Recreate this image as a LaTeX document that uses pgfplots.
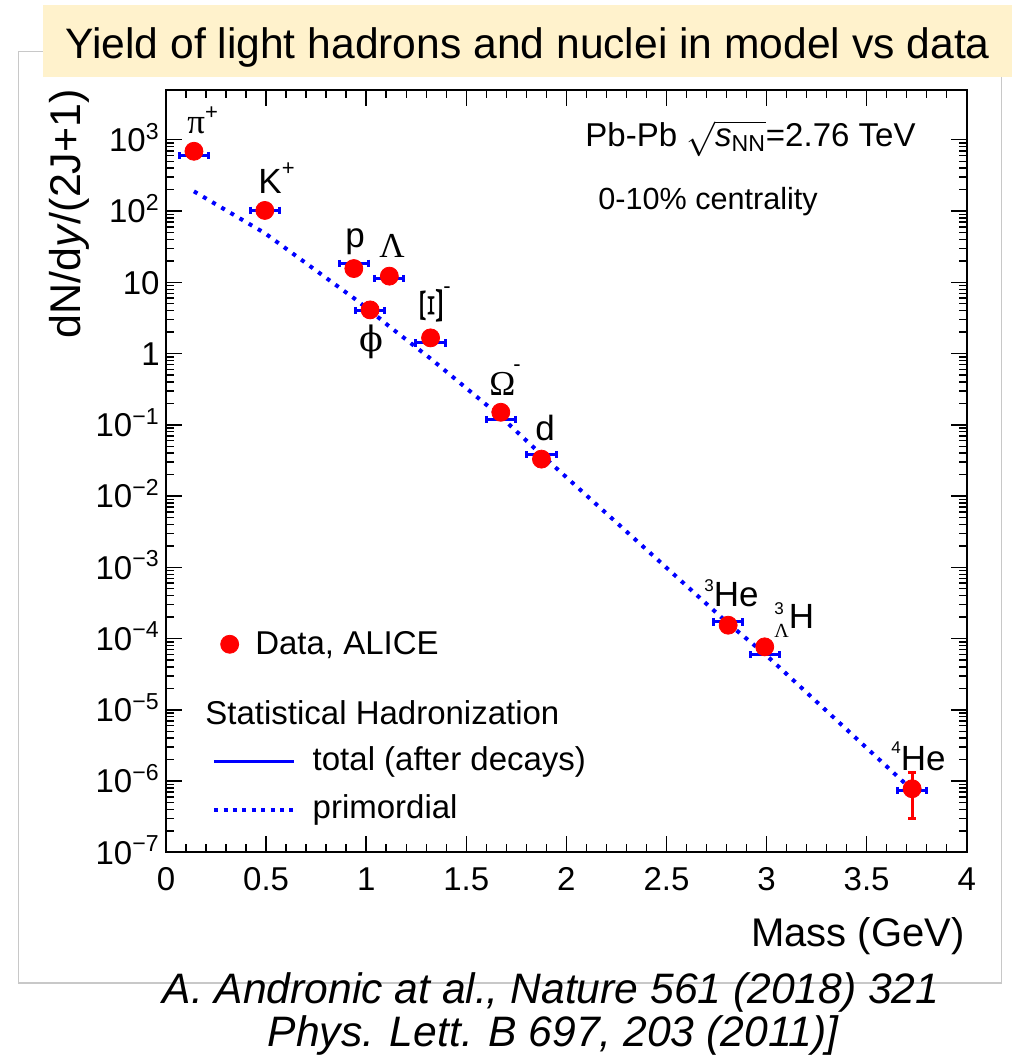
\documentclass[border=0pt]{standalone}
\usepackage{pgfplots}
\pgfplotsset{compat=1.18}
\usepackage{fontspec}
\setmainfont{Liberation Sans}
\newfontfamily\greek{Liberation Serif}
\newfontfamily\phifont{DejaVu Serif}
\definecolor{rootblue}{rgb}{0,0,1}
\definecolor{rootred}{rgb}{1,0,0}
\definecolor{titlebg}{RGB}{255,242,204}
\definecolor{framegray}{RGB}{200,200,200}
% small raised index for particle names
\newcommand\up[3]{\raisebox{#1}{\fontsize{#2}{#2}\selectfont #3}}

\begin{document}
\begin{tikzpicture}
% page layout in pixel-like units (origin top left)
\begin{scope}[x=0.5pt,y=-0.5pt]
  \path[use as bounding box] (0,0) rectangle (1017,1063);
  \draw[framegray, line width=0.6pt] (18.3,51.7) rectangle (1001.7,983);
  \fill[titlebg] (43.3,5) rectangle (1012,76.7);
  \node[anchor=base west, inner sep=0pt, font=\fontsize{21.3}{24}\selectfont] at (65,58.3)
    {Yield of light hadrons and nuclei in model vs data};
  \node[anchor=base, inner sep=0pt, font=\fontsize{21.3}{24}\selectfont\itshape] at (551,1003.3)
    {A. Andronic at al., Nature 561 (2018) 321};
  \node[anchor=base, inner sep=0pt, font=\fontsize{21.3}{24}\selectfont\itshape] at (553,1046.7)
    {Phys. Lett. B 697, 203 (2011)]};
  \node[anchor=base east, inner sep=0pt, font=\fontsize{20}{22}\selectfont] at (965,946)
    {Mass (GeV)};
  \node[anchor=base, rotate=90, inner sep=0pt, font=\fontsize{21.5}{22}\selectfont] at (80,214)
    {dN/d\textit{y}/(2J+1)};
\end{scope}

\begin{axis}[
  at={(83pt,-426.15pt)}, anchor=south west,
  scale only axis, width=400.35pt, height=381.15pt,
  xmin=0, xmax=4, ymode=log, ymin=1e-7, ymax=5000,
  axis line style={line width=1pt},
  every tick/.style={black, line width=0.7pt},
  major tick length=8pt, minor tick length=4pt,
  tick align=inside,
  xtick={0,0.5,1,1.5,2,2.5,3,3.5,4},
  xticklabels={0,0.5,1,1.5,2,2.5,3,3.5,4},
  minor x tick num=4,
  ytick={1e-7,1e-6,1e-5,1e-4,1e-3,1e-2,1e-1,1,10,100,1000},
  yticklabels={10\textsuperscript{−7},10\textsuperscript{−6},10\textsuperscript{−5},
    10\textsuperscript{−4},10\textsuperscript{−3},10\textsuperscript{−2},10\textsuperscript{−1},
    1,10,10\textsuperscript{2},10\textsuperscript{3}},
  ticklabel style={font=\fontsize{16.5}{16.5}\selectfont},
  xticklabel style={anchor=north, inner sep=0pt, yshift=-7.5pt},
  yticklabel style={anchor=base east, inner sep=0pt, xshift=-3pt, yshift=-5.9pt},
  unbounded coords=jump,
  legend style={at={(0.0678,0.2729)}, anchor=west, draw=none, fill=none,
    inner sep=0pt, column sep=8.3pt,
    nodes={inner sep=0pt, font=\fontsize{16.5}{16.5}\selectfont}},
]
% primordial yields
\addplot[rootblue, line width=2pt, dash pattern=on 2pt off 3.3pt, forget plot] coordinates {
  (0.1396,189) (0.4937,49) (0.9383,6.0) (1.0195,4.0) (1.1157,2.4) (1.3217,0.85)
  (1.6725,0.13) (1.8756,0.038) (2.8084,1.63e-4) (2.991,6.1e-5) (3.7274,7.5e-7)};
% 4He uncertainty (3.03e-7 .. 1.31e-6)
\addplot[rootred, line width=1.5pt, mark=-, mark size=1.9pt, forget plot]
  coordinates {(3.7274,3.03e-7) (3.7274,1.31e-6)};
% ALICE data
\addplot[only marks, mark=*, mark size=4.5pt, rootred, mark options={fill=rootred, draw=rootred}, forget plot]
  coordinates {
  (0.1396,690) (0.4937,102) (0.9383,15.6) (1.0195,4.1) (1.1157,12.2) (1.3217,1.66)
  (1.6725,0.150) (1.8756,0.033) (2.8084,1.54e-4) (2.991,7.65e-5) (3.7274,7.8e-7)};
% total yields after decays, drawn as short bars (mass +- 0.073 GeV)
\addplot[rootblue, line width=1.5pt, mark=|, mark size=1.8pt, forget plot] coordinates {
  (0.0666,597) (0.2126,597) (nan,nan)
  (0.4207,103) (0.5667,103) (nan,nan)
  (0.8653,18.6) (1.0113,18.6) (nan,nan)
  (0.9465,4.0) (1.0925,4.0) (nan,nan)
  (1.0427,11.3) (1.1887,11.3) (nan,nan)
  (1.2487,1.41) (1.3947,1.41) (nan,nan)
  (1.5995,0.119) (1.7455,0.119) (nan,nan)
  (1.8026,0.038) (1.9486,0.038) (nan,nan)
  (2.7354,1.71e-4) (2.8814,1.71e-4) (nan,nan)
  (2.918,5.9e-5) (3.064,5.9e-5) (nan,nan)
  (3.6544,7.4e-7) (3.8004,7.4e-7)};
\addlegendimage{only marks, mark=*, mark size=4.5pt, rootred, mark options={fill=rootred, draw=rootred}}
\addlegendentry{Data, ALICE}
\end{axis}

\begin{axis}[
  at={(83pt,-426.15pt)}, anchor=south west,
  scale only axis, width=400.35pt, height=381.15pt,
  xmin=0, xmax=4, ymode=log, ymin=1e-7, ymax=5000, hide axis,
  legend image code/.code={\draw[#1] (0pt,0pt) -- (40pt,0pt);},
  legend cell align=left,
  legend style={at={(0.0571,0.0872)}, anchor=west, draw=none, fill=none,
    inner sep=0pt, column sep=8.3pt, row sep=8.65pt,
    nodes={inner sep=0pt, text height=12pt, text depth=3.5pt,
      font=\fontsize{16.5}{16.5}\selectfont}},
]
\addlegendimage{rootblue, line width=1.5pt}
\addlegendentry{total (after decays)}
\addlegendimage{rootblue, line width=2pt, dash pattern=on 2pt off 2.7pt}
\addlegendentry{primordial}
\end{axis}

% texts inside the frame
\begin{scope}[x=0.5pt,y=-0.5pt]
  \node[anchor=base west, inner sep=0pt, font=\fontsize{16.5}{16.5}\selectfont] at (205,724)
    {Statistical Hadronization};
  \node[anchor=base west, inner sep=0pt, font=\fontsize{16.5}{16.5}\selectfont] at (585,146.7)
    {Pb-Pb $\sqrt{\mbox{\textit{s}\textsubscript{NN}}}$=2.76 TeV};
  \node[anchor=base west, inner sep=0pt, font=\fontsize{15.3}{16}\selectfont] at (598,210)
    {0-10\% centrality};
  % particle names
  \begin{scope}[every node/.style={inner sep=0pt, font=\fontsize{17.5}{17.5}\selectfont}]
    \node[anchor=base west] at (187,133.3) {{\greek π}\up{7pt}{11}{+}};
    \node[anchor=base west] at (258,193.3) {K\up{8.7pt}{11}{+}};
    \node[anchor=base west] at (345,248) {p};
    \node[anchor=base west] at (379,258) {\greek Λ};
    \node[anchor=center] at (371,341.5) {\phifont ϕ};
    \node[anchor=center] at (431.7,306) {\rotatebox{90}{\scalebox{1.75}[0.95]{\greek Ξ}}};
    \node[anchor=center, font=\fontsize{11}{11}\selectfont] at (447,290) {-};
    \node[anchor=base west] at (489,395) {\greek Ω};
    \node[anchor=center, font=\fontsize{11}{11}\selectfont] at (517,368) {-};
    \node[anchor=base west] at (535,440) {d};
    \node[anchor=base west] at (704,606.7) {\up{7.5pt}{8.5}{3}He};
    \node[anchor=base west] at (774,628.3)
      {\rlap{\up{6.7pt}{8.5}{3}}\raisebox{-4.8pt}{\fontsize{10}{10}\selectfont\greek Λ}H};
    \node[anchor=base west] at (891,770) {\up{8.3pt}{8.5}{4}He};
  \end{scope}
\end{scope}
\end{tikzpicture}
\end{document}
